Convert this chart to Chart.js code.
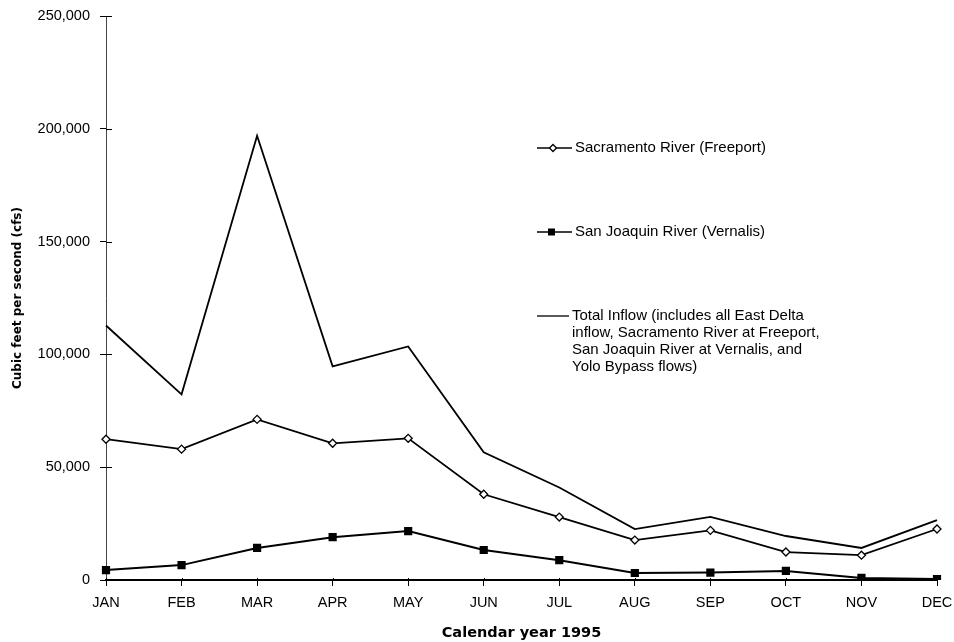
<!DOCTYPE html>
<html>
<head>
<meta charset="utf-8">
<script src="https://cdn.jsdelivr.net/npm/chart.js@4.4.1/dist/chart.umd.min.js"></script>
<style>
  html, body { margin: 0; padding: 0; background: #fff; }
  #wrap { position: relative; width: 954px; height: 642px; }
</style>
</head>
<body>
<div id="wrap"><canvas id="flowChart"></canvas></div>
<script>
// Delta inflows, calendar year 1995 (cfs)
const months = ['JAN', 'FEB', 'MAR', 'APR', 'MAY', 'JUN', 'JUL', 'AUG', 'SEP', 'OCT', 'NOV', 'DEC'];
const sacramento = [62400, 58000, 71200, 60600, 62800, 38000, 27900, 17700, 22000, 12400, 11000, 22600];
const sanJoaquin = [4400, 6600, 14200, 19000, 21700, 13300, 8800, 3100, 3300, 4000, 900, 400];
const totalInflow = [112800, 82300, 196900, 94700, 103500, 56600, 41000, 22600, 28000, 19500, 14200, 26500];
const yTicks = [0, 50000, 100000, 150000, 200000, 250000];

const legendItems = [
    { style: 'diamond', lines: ['Sacramento River (Freeport)'] },
    { style: 'square', lines: ['San Joaquin River (Vernalis)'] },
    { style: 'none', lines: [
        'Total Inflow (includes all East Delta',
        'inflow, Sacramento River at Freeport,',
        'San Joaquin River at Vernalis, and',
        'Yolo Bypass flows)'
    ] }
];

const FONT = '"Liberation Sans", Arial, Helvetica, sans-serif';

// tick marks that cross the axes, as in the original figure
const innerTicks = {
    id: 'innerTicks',
    afterDraw(chart) {
        const ctx = chart.ctx;
        const xs = chart.scales.x, ys = chart.scales.y;
        const area = chart.chartArea;
        ctx.save();
        ctx.strokeStyle = '#000';
        ctx.lineWidth = 1;
        ys.ticks.forEach(t => {
            const py = Math.round(ys.getPixelForValue(t.value)) + 0.5;
            ctx.beginPath();
            ctx.moveTo(area.left, py);
            ctx.lineTo(area.left + 6, py);
            ctx.stroke();
        });
        xs.ticks.forEach((t, i) => {
            const px = Math.round(xs.getPixelForTick(i)) + 0.5;
            ctx.beginPath();
            ctx.moveTo(px, area.bottom);
            ctx.lineTo(px, area.bottom - 2);
            ctx.stroke();
        });
        ctx.restore();
    }
};

// legend drawn inside the plot, to the right, like the original figure
const boxLegend = {
    id: 'boxLegend',
    afterDraw(chart) {
        const ctx = chart.ctx;
        const x0 = 537;
        const rows = [148, 232, 316];
        ctx.save();
        ctx.strokeStyle = '#000';
        ctx.fillStyle = '#000';
        ctx.lineWidth = 1.3;
        ctx.font = '15px ' + FONT;
        ctx.textBaseline = 'middle';
        legendItems.forEach((item, i) => {
            const y = rows[i];
            const lineEnd = item.style === 'none' ? 569 : 572;
            ctx.beginPath();
            ctx.moveTo(x0, y);
            ctx.lineTo(lineEnd, y);
            ctx.stroke();
            if (item.style === 'diamond') {
                const cx = 553, r = 3.5;
                ctx.beginPath();
                ctx.moveTo(cx - r, y);
                ctx.lineTo(cx, y - r);
                ctx.lineTo(cx + r, y);
                ctx.lineTo(cx, y + r);
                ctx.closePath();
                ctx.fillStyle = '#fff';
                ctx.fill();
                ctx.stroke();
                ctx.fillStyle = '#000';
            } else if (item.style === 'square') {
                ctx.fillRect(548, y - 3.5, 7, 7);
            }
            item.lines.forEach((t, j) => {
                ctx.fillText(t, lineEnd + 3, y + j * 16.8);
            });
        });
        ctx.restore();
    }
};

const ctx = document.getElementById('flowChart').getContext('2d');
const flowChart = new Chart(ctx, {
    type: 'line',
    data: {
        labels: months,
        datasets: [
            {
                label: 'Sacramento River (Freeport)',
                data: sacramento,
                borderColor: '#000',
                borderWidth: 1.8,
                pointStyle: 'rectRot',
                pointRadius: 4,
                pointBackgroundColor: '#fff',
                pointBorderColor: '#000',
                pointBorderWidth: 1.3,
                tension: 0
            },
            {
                label: 'San Joaquin River (Vernalis)',
                data: sanJoaquin,
                borderColor: '#000',
                borderWidth: 2,
                pointStyle: 'rect',
                pointRadius: 5.8,
                pointBackgroundColor: '#000',
                pointBorderColor: '#000',
                pointBorderWidth: 0,
                tension: 0
            },
            {
                label: 'Total Inflow',
                data: totalInflow,
                borderColor: '#000',
                borderWidth: 1.8,
                pointRadius: 0,
                tension: 0
            }
        ]
    },
    options: {
        responsive: true,
        maintainAspectRatio: false,
        animation: false,
        layout: {
            padding: { top: 16, right: 17, bottom: 0, left: 0 }
        },
        plugins: {
            legend: { display: false },
            tooltip: { enabled: false },
            title: { display: false }
        },
        scales: {
            x: {
                type: 'category',
                offset: false,
                afterFit: function(scale) {
                    scale.height = 62;
                    scale.paddingLeft = 0;
                    scale.paddingRight = 0;
                },
                grid: {
                    display: true,
                    drawOnChartArea: false,
                    drawTicks: true,
                    tickLength: 6,
                    color: '#000'
                },
                border: { display: true, color: '#000', width: 2 },
                ticks: {
                    color: '#000',
                    font: { family: FONT, size: 14.5 },
                    padding: 8,
                    maxRotation: 0,
                    autoSkip: false
                },
                title: {
                    display: true,
                    text: 'Calendar year 1995',
                    color: '#000',
                    font: { family: '"DejaVu Sans", Verdana, sans-serif', size: 14.5, weight: 'bold' },
                    padding: { top: 0, bottom: 0 }
                }
            },
            y: {
                min: 0,
                max: 250000,
                afterFit: function(scale) {
                    scale.width = 106;
                    scale.paddingTop = 0;
                    scale.paddingBottom = 0;
                },
                afterBuildTicks: function(scale) {
                    scale.ticks = yTicks.map(v => ({ value: v }));
                },
                grid: {
                    display: true,
                    drawOnChartArea: false,
                    drawTicks: true,
                    tickLength: 6,
                    color: '#000'
                },
                border: { display: true, color: '#444', width: 1, dash: [6, 2] },
                ticks: {
                    color: '#000',
                    font: { family: FONT, size: 14.5 },
                    padding: 10,
                    callback: function(value) {
                        return value.toLocaleString('en-US');
                    }
                },
                title: {
                    display: true,
                    text: 'Cubic feet per second (cfs)',
                    color: '#000',
                    font: { family: '"DejaVu Sans", Verdana, sans-serif', size: 12, weight: 'bold' },
                    padding: { top: 11, bottom: 0 }
                }
            }
        }
    },
    plugins: [innerTicks, boxLegend]
});
</script>
</body>
</html>
